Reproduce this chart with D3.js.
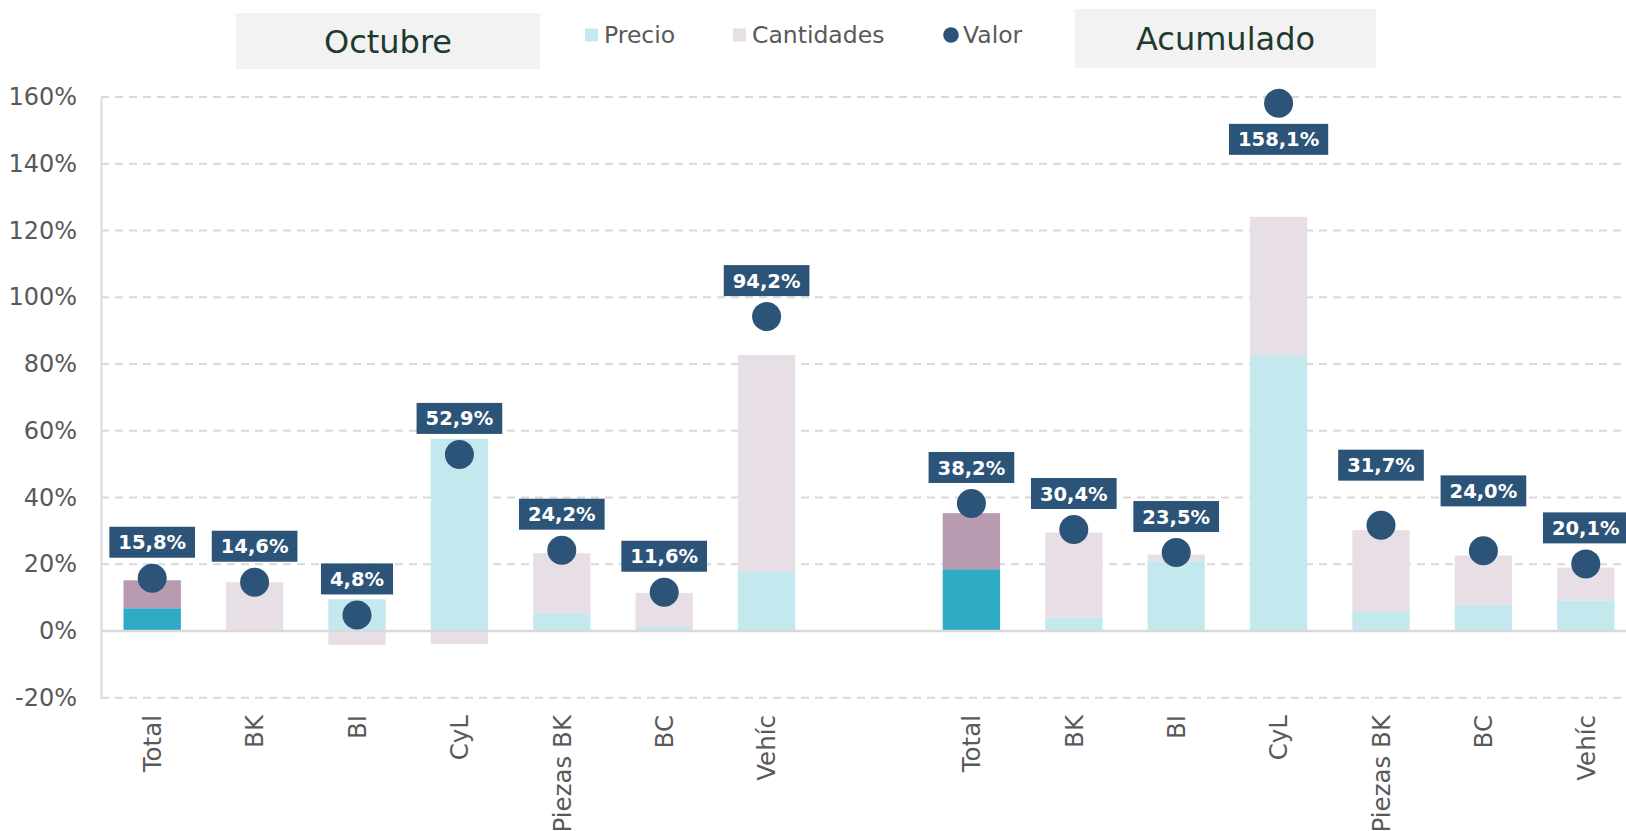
<!DOCTYPE html>
<html>
<head>
<meta charset="utf-8">
<script src="https://cdn.jsdelivr.net/npm/d3@7"></script>
<style>
  body { margin: 0; background: #fff; overflow: hidden; }
  svg { display: block; font-family: "DejaVu Sans", Verdana, sans-serif; }
</style>
</head>
<body>
<div id="chart"></div>
<script>
// values in %
const categories = ["Total", "BK", "BI", "CyL", "Piezas BK", "BC", "Vehíc"]
const precioOct = [6.8, 0.2, 9.5, 57.6, 5.3, 1.2, 17.7]
const cantidadesOct = [8.4, 14.4, -4.2, -3.9, 18.0, 10.2, 65.0]
const valorOct = [15.8, 14.6, 4.8, 52.9, 24.2, 11.6, 94.2]
const precioAcum = [18.5, 4.0, 20.9, 82.7, 5.7, 7.7, 9.2]
const cantidadesAcum = [16.8, 25.5, 2.0, 41.4, 24.5, 14.9, 9.8]
const valorAcum = [38.2, 30.4, 23.5, 158.1, 31.7, 24.0, 20.1]
const yTicks = [-20, 0, 20, 40, 60, 80, 100, 120, 140, 160]

const svg_width = 1626
const svg_height = 831
const chart_left = 101
const chart_right = 1637
const y_top = 97
const y_bottom = 697.7

const colors = {
  precio: '#C3E9EF', cantidades: '#E8DFE6',
  precioTotal: '#2EAAC4', cantidadesTotal: '#B99BB1',
  valor: '#2C5479', grid: '#D9D9D9', text: '#595959', title: '#1E3A30'
}

// label offsets from the dot centre (px), default above
const labelShift = { 'a-3': 36, 'a-4': -60, 'a-5': -60 }

const rows = []
const addGroup = (prefix, precio, cant, valor) => {
  categories.forEach((c, i) => rows.push({
    key: `${prefix}-${i}`, cat: c, total: i === 0,
    precio: precio[i], cantidades: cant[i], valor: valor[i]
  }))
}
addGroup('o', precioOct, cantidadesOct, valorOct)
const domain = rows.map(d => d.key).concat(['gap'])
addGroup('a', precioAcum, cantidadesAcum, valorAcum)
rows.slice(7).forEach(d => domain.push(d.key))

const locale = d3.formatLocale({ decimal: ',', thousands: '.', grouping: [3], currency: ['', '€'] })
const fmt = v => locale.format('.1f')(v) + '%'

const x = d3.scaleBand().domain(domain).range([chart_left, chart_right]).paddingInner(0.44).paddingOuter(0.22)
const y = d3.scaleLinear().domain([-20, 160]).range([y_bottom, y_top])

const svg = d3.select('#chart').append('svg')
  .attr('width', svg_width).attr('height', svg_height)

// gridlines
svg.append('g').selectAll('line')
  .data(yTicks.filter(t => t !== 0))
  .join('line')
    .attr('x1', chart_left).attr('x2', svg_width)
    .attr('y1', d => y(d)).attr('y2', d => y(d))
    .attr('stroke', colors.grid).attr('stroke-width', 2)
    .attr('stroke-dasharray', '8,6')

// y axis
const yAxis = svg.append('g')
  .attr('transform', `translate(${chart_left},0)`)
  .call(d3.axisLeft(y).tickValues(yTicks).tickSize(0).tickPadding(24).tickFormat(d => d + '%'))
yAxis.select('.domain').attr('stroke', colors.grid).attr('stroke-width', 2)
yAxis.selectAll('text').attr('fill', colors.text).attr('font-size', '24px')
  .attr('font-family', '"DejaVu Sans", Verdana, sans-serif')

// bars
const bars = svg.append('g')
bars.selectAll('rect.precio').data(rows).join('rect')
  .attr('class', 'precio')
  .attr('x', d => x(d.key)).attr('width', x.bandwidth())
  .attr('y', d => y(Math.max(0, d.precio)))
  .attr('height', d => Math.abs(y(d.precio) - y(0)))
  .attr('fill', d => d.total ? colors.precioTotal : colors.precio)

bars.selectAll('rect.cant').data(rows).join('rect')
  .attr('class', 'cant')
  .attr('x', d => x(d.key)).attr('width', x.bandwidth())
  .attr('y', d => d.cantidades >= 0 ? y(d.precio + d.cantidades) : y(0))
  .attr('height', d => d.cantidades >= 0 ? y(d.precio) - y(d.precio + d.cantidades) : y(d.cantidades) - y(0))
  .attr('fill', d => d.total ? colors.cantidadesTotal : colors.cantidades)

// zero line
svg.append('line')
  .attr('x1', chart_left).attr('x2', svg_width)
  .attr('y1', y(0)).attr('y2', y(0))
  .attr('stroke', colors.grid).attr('stroke-width', 2.5)

// x labels
svg.append('g').selectAll('text').data(rows).join('text')
  .attr('transform', d => `translate(${x(d.key) + x.bandwidth() / 2},715) rotate(-90)`)
  .attr('text-anchor', 'end').attr('dy', '0.36em')
  .attr('font-size', '24.5px').attr('fill', colors.text)
  .text(d => d.cat)

// dots
const cx = d => x(d.key) + x.bandwidth() / 2
svg.append('g').selectAll('circle').data(rows).join('circle')
  .attr('cx', cx).attr('cy', d => y(d.valor)).attr('r', 14.5)
  .attr('fill', colors.valor)

// data labels
const labels = svg.append('g').selectAll('g').data(rows).join('g')
  .attr('transform', d => `translate(${cx(d)},${y(d.valor) + (labelShift[d.key] ?? -36)})`)
labels.append('text')
  .attr('text-anchor', 'middle').attr('dy', '0.36em')
  .attr('font-size', '19.5px').attr('font-weight', 'bold').attr('fill', '#fff')
  .text(d => fmt(d.valor))
labels.each(function () {
  const g = d3.select(this)
  const bb = g.select('text').node().getBBox()
  g.insert('rect', 'text')
    .attr('x', -bb.width / 2 - 9).attr('y', -15.5)
    .attr('width', bb.width + 18).attr('height', 31)
    .attr('fill', colors.valor)
})

// header boxes
const titles = [
  { text: 'Octubre', x: 236, w: 304, y: 13, h: 56 },
  { text: 'Acumulado', x: 1075, w: 301, y: 9, h: 59 }
]
const head = svg.append('g').selectAll('g').data(titles).join('g')
head.append('rect')
  .attr('x', d => d.x).attr('y', d => d.y).attr('width', d => d.w).attr('height', d => d.h)
  .attr('fill', '#F2F2F2')
head.append('text')
  .attr('x', d => d.x + d.w / 2).attr('y', d => d.y + d.h / 2).attr('dy', '0.36em')
  .attr('text-anchor', 'middle').attr('font-size', '32px').attr('fill', colors.title)
  .text(d => d.text)

// legend
const legendItems = [
  { name: 'Precio', shape: 'rect', color: colors.precio, x: 585 },
  { name: 'Cantidades', shape: 'rect', color: colors.cantidades, x: 733 },
  { name: 'Valor', shape: 'circle', color: colors.valor, x: 943 }
]
const leg = svg.append('g').selectAll('g').data(legendItems).join('g')
  .attr('transform', d => `translate(${d.x},35)`)
leg.filter(d => d.shape === 'rect').append('rect')
  .attr('x', 0).attr('y', -6.5).attr('width', 13).attr('height', 13).attr('fill', d => d.color)
leg.filter(d => d.shape === 'circle').append('circle')
  .attr('cx', 8).attr('cy', 0).attr('r', 7.8).attr('fill', d => d.color)
leg.append('text')
  .attr('x', d => d.shape === 'rect' ? 19 : 20).attr('dy', '0.36em')
  .attr('font-size', '23.5px').attr('fill', colors.text)
  .text(d => d.name)
</script>
</body>
</html>
